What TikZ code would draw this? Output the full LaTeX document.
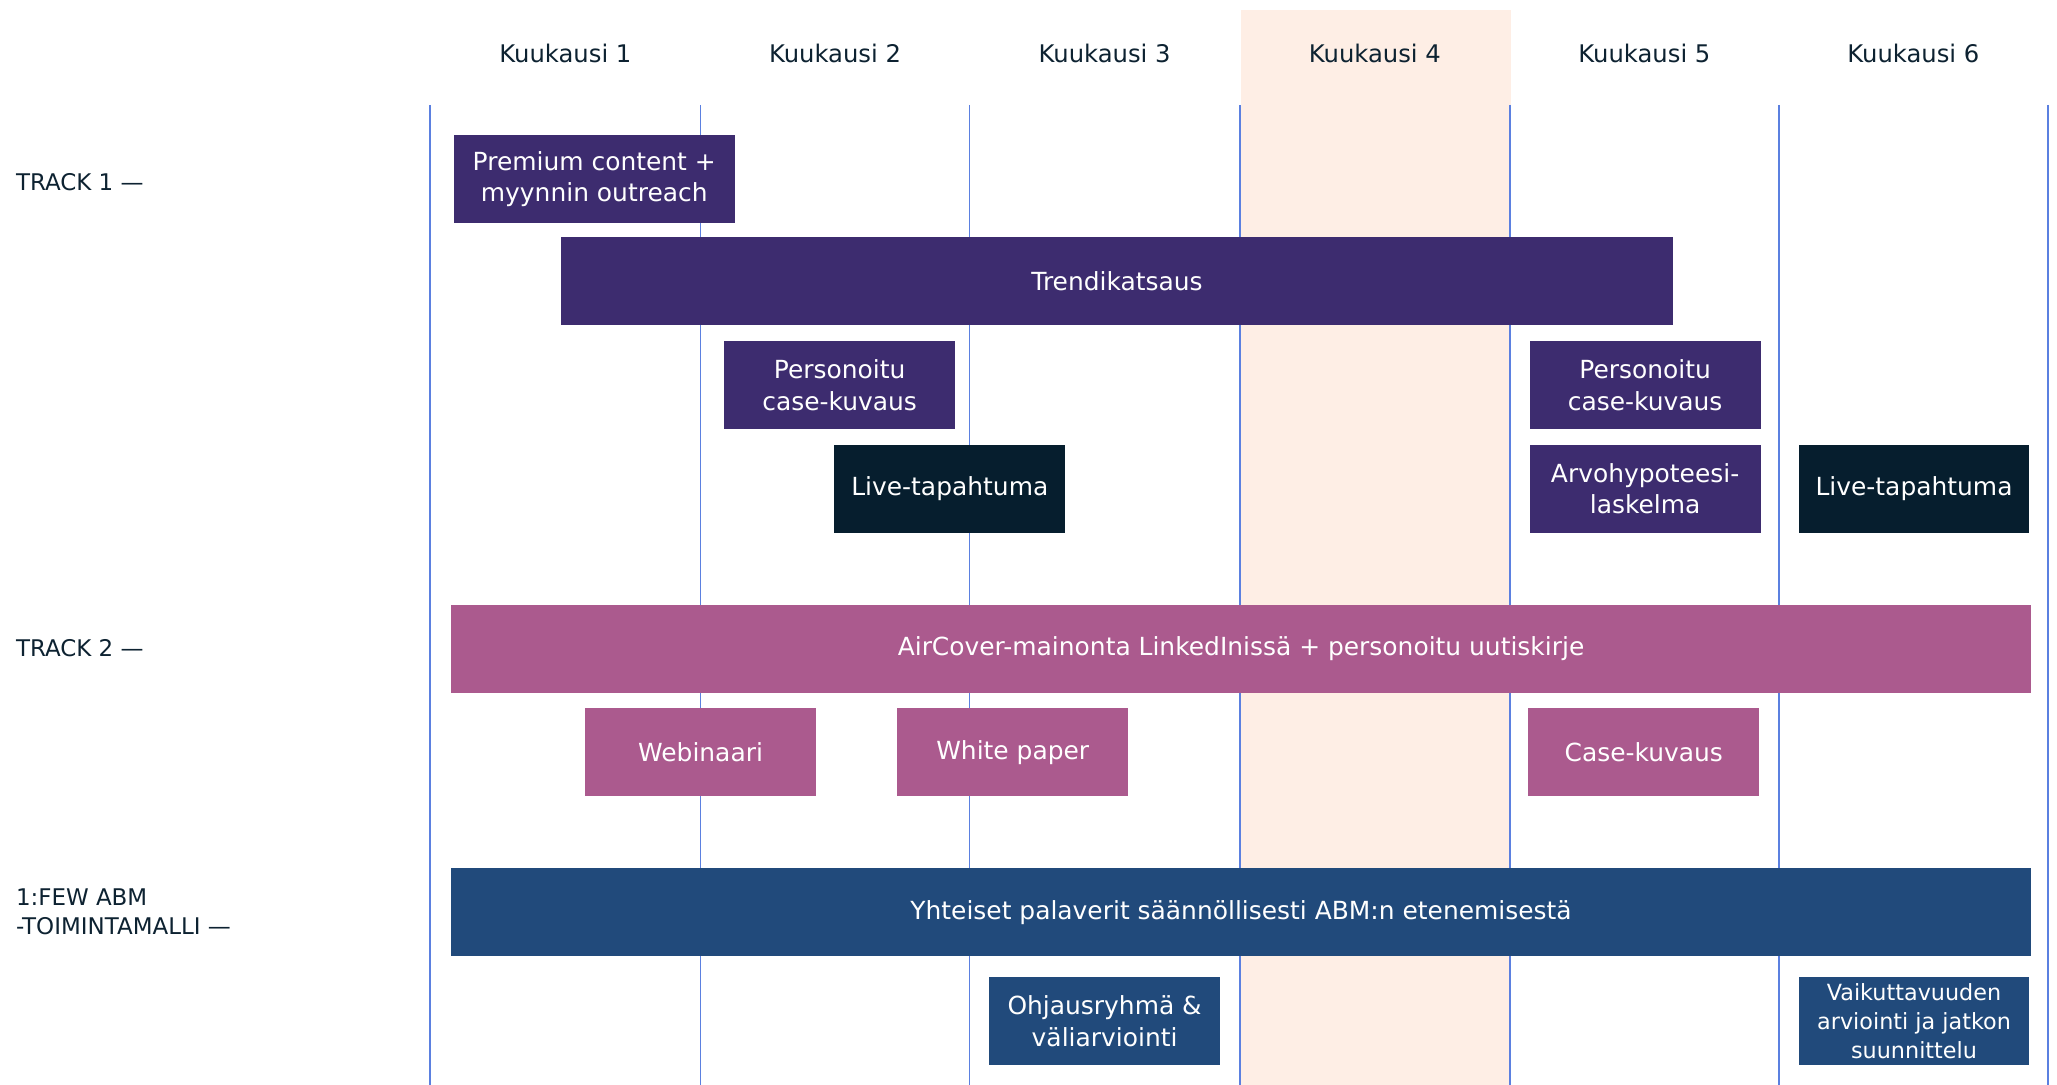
\documentclass[tikz,border=0pt]{standalone}
\usepackage{fontspec}
\setmainfont{DejaVu Sans}
\usepackage{tikz}
\usetikzlibrary{calc}
\definecolor{inkdark}{HTML}{0D2231}
\definecolor{gridblue}{HTML}{5B80E0}
\definecolor{peach}{HTML}{FEEEE5}
\definecolor{trackpurple}{HTML}{3D2C6F}
\definecolor{tracknavy}{HTML}{061E2E}
\definecolor{trackpink}{HTML}{AB5A8E}
\definecolor{trackblue}{HTML}{214A7B}
\begin{document}
\begin{tikzpicture}[x=1pt,y=-1pt,
	gridline/.style={gridblue, line width=1.3pt},
	month/.style={text=inkdark, font=\fontsize{18.5}{22}\selectfont},
	tracklabel/.style={text=inkdark, anchor=west, align=left, inner sep=0pt, font=\fontsize{17.5}{22}\selectfont},
	box/.style={rectangle, inner sep=0pt, text=white, align=center, minimum width=176pt, minimum height=67pt, font=\fontsize{19}{24}\selectfont},
	purplebox/.style={box, fill=trackpurple},
	navybox/.style={box, fill=tracknavy},
	pinkbox/.style={box, fill=trackpink},
	bluebox/.style={box, fill=trackblue}]
	
	\useasboundingbox (0,0) rectangle (1568,827);
	
	\fill[peach] (946,8) rectangle (1152,827);
	
	\foreach \i/\x in {0/328,1/534,2/739,3/945,4/1151,5/1356,6/1561} {
		\coordinate (top\i) at (\x,80);
		\coordinate (bot\i) at (\x,827);
		\draw[gridline] (top\i) -- (bot\i);
	}
	
	\foreach \i/\x in {1/431,2/636.5,3/842,4/1048,5/1253.5,6/1458.5}
		\node[month] (m\i) at (\x,41) {Kuukausi \i};
	
	\node[tracklabel] (track1) at (12,139) {TRACK 1 —};
	\node[tracklabel] (track2) at (12,494) {TRACK 2 —};
	\node[tracklabel] (abm) at (12,695) {1:FEW ABM\\-TOIMINTAMALLI —};
	
	\node[purplebox, minimum width=214pt] (premium) at (453,136.5) {Premium content +\\myynnin outreach};
	\node[purplebox, minimum width=847pt] (trend) at (851.5,214.5) {Trendikatsaus};
	\node[purplebox] (case1) at (640,293.5) {Personoitu\\case-kuvaus};
	\node[navybox] (live1) at (724,372.5) {Live-tapahtuma};
	\node[purplebox] (case2) at (1254,293.5) {Personoitu\\case-kuvaus};
	\node[purplebox] (arvo) at (1254,372.5) {Arvohypoteesi-\\laskelma};
	\node[navybox] (live2) at (1459,372.5) {Live-tapahtuma};
	
	\node[pinkbox, minimum width=1204pt] (aircover) at (946,494.5) {AirCover-mainonta LinkedInissä + personoitu uutiskirje};
	\node[pinkbox] (webinar) at (534,573.5) {Webinaari};
	\node[pinkbox] (paper) at (772,573.5) {White paper};
	\node[pinkbox] (case3) at (1253,573.5) {Case-kuvaus};
	
	\node[bluebox, minimum width=1204pt] (meetings) at (946,695.5) {Yhteiset palaverit säännöllisesti ABM:n etenemisestä};
	\node[bluebox] (steering) at (842,778.5) {Ohjausryhmä \&\\väliarviointi};
	\node[bluebox, font=\fontsize{17}{22}\selectfont] (impact) at (1459,778.5) {Vaikuttavuuden\\arviointi ja jatkon\\suunnittelu};
	
\end{tikzpicture}
\end{document}
